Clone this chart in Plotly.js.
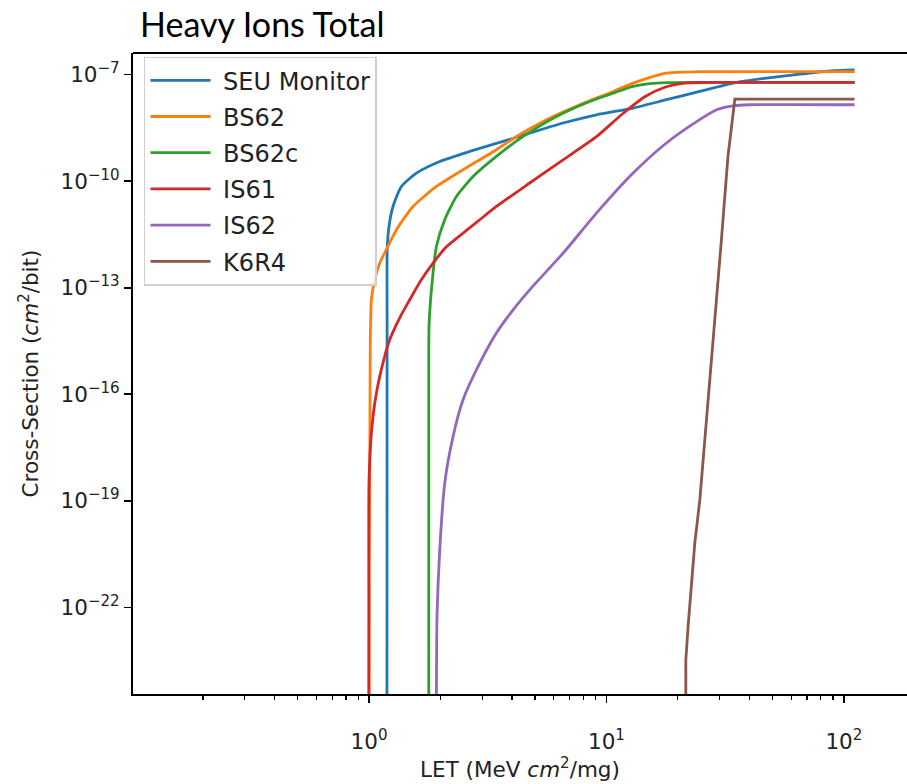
<!DOCTYPE html>
<html>
<head>
<meta charset="utf-8">
<script src="https://cdn.plot.ly/plotly-3.0.1.min.js"></script>
<style>html,body{margin:0;padding:0;overflow:hidden;background:#fff}</style>
</head>
<body>
<div id="chart" style="width:907px;height:784px"></div>
<script>
// ---- Data ----
const seriesNames = ["SEU Monitor", "BS62", "BS62c", "IS61", "IS62", "K6R4"];
const seriesColors = ["#1f77b4", "#ff7f0e", "#2ca02c", "#d62728", "#9467bd", "#8c564b"];

const seuLET = [1.190, 1.191, 1.192, 1.193, 1.214, 1.262, 1.369, 1.584, 1.986, 2.657, 3.67, 4.75, 6.57, 9.08, 12.95, 17.9, 24.7, 34.2, 47.2, 65.3, 90.2, 111];
const seuXS  = [1e-30, 1e-20, 1e-14, 1.17e-12, 5.3e-12, 1.94e-11, 7.1e-11, 1.69e-10, 3.6e-10, 6.9e-10, 1.32e-9, 2.27e-9, 4.35e-9, 7.4e-9, 1.15e-8, 1.97e-8, 3.37e-8, 5.8e-8, 8.0e-8, 1.04e-7, 1.29e-7, 1.36e-7];

const bs62LET = [1.000, 1.002, 1.007, 1.010, 1.013, 1.0235, 1.057, 1.109, 1.163, 1.305, 1.532, 1.923, 2.49, 3.44, 4.18, 5.59, 7.72, 10.67, 12.95, 17.9, 24.7, 111];
const bs62XS  = [1e-30, 1e-21, 3.2e-19, 7e-17, 4.2e-15, 4.6e-14, 1.67e-13, 4.9e-13, 9.44e-13, 4.3e-12, 1.94e-11, 7.1e-11, 2.1e-10, 7.7e-10, 1.82e-9, 5.4e-9, 1.42e-8, 3.37e-8, 5.8e-8, 1.11e-7, 1.21e-7, 1.21e-7];

const bs62cLET = [1.785, 1.786, 1.790, 1.832, 1.923, 2.084, 2.334, 2.744, 3.44, 4.46, 6.16, 8.51, 11.75, 12.95, 15.2, 17.9, 24.7, 111];
const bs62cXS  = [1e-30, 1e-16, 8.1e-15, 8.7e-14, 1.45e-12, 8.2e-12, 3.7e-11, 1.36e-10, 5.0e-10, 1.82e-9, 6.65e-9, 1.76e-8, 3.77e-8, 4.67e-8, 5.6e-8, 5.95e-8, 6.04e-8, 6.05e-8];

const is61LET = [0.997, 0.999, 1.0, 1.0235, 1.0744, 1.164, 1.222, 1.347, 1.484, 1.651, 1.861, 2.119, 2.49, 2.927, 3.44, 4.75, 6.57, 9.08, 11.57, 14.51, 17.62, 21.38, 25.97, 111];
const is61XS  = [1e-30, 1e-22, 3.2e-19, 8.0e-18, 1.08e-16, 1.16e-15, 3.41e-15, 1.42e-14, 4.57e-14, 1.57e-13, 4.94e-13, 1.42e-12, 3.46e-12, 8.2e-12, 1.94e-11, 8.9e-11, 4.0e-10, 1.79e-9, 7.43e-9, 2.39e-8, 4.43e-8, 5.81e-8, 6.04e-8, 6.04e-8];

const is62LET = [1.908, 1.923, 1.934, 1.986, 2.084, 2.259, 2.49, 2.927, 3.44, 4.045, 4.75, 6.57, 9.08, 12.95, 17.9, 24.7, 29.1, 34.2, 40.2, 111];
const is62XS  = [1e-30, 4e-25, 5.5e-23, 4.15e-21, 3.1e-19, 6.4e-18, 7.0e-17, 7.5e-16, 5.3e-15, 2.39e-14, 8.75e-14, 9.4e-13, 1.26e-11, 1.69e-10, 1.19e-9, 5.4e-9, 1.03e-8, 1.33e-8, 1.42e-8, 1.42e-8];

const k6r4LET = [21.58, 21.6, 22.08, 22.82, 23.56, 24.74, 27.2, 30.5, 32.5, 34.75, 111];
const k6r4XS  = [1e-30, 3.3e-24, 2.9e-23, 4.8e-22, 6.4e-21, 1.06e-19, 1.85e-16, 2.24e-12, 5.0e-10, 2.06e-8, 2.06e-8];

const xTickVals = [1, 10, 100];
const xTickText = ["10<sup>0</sup>", "10<sup>1</sup>", "10<sup>2</sup>"];
const xMinorVals = [0.2, 0.3, 0.4, 0.5, 0.6, 0.7, 0.8, 0.9, 2, 3, 4, 5, 6, 7, 8, 9, 20, 30, 40, 50, 60, 70, 80, 90];
const yTickVals = [1e-22, 1e-19, 1e-16, 1e-13, 1e-10, 1e-7];
const yTickText = ["10<sup>−22</sup>", "10<sup>−19</sup>", "10<sup>−16</sup>", "10<sup>−13</sup>", "10<sup>−10</sup>", "10<sup>−7</sup>"];

const xsData = [[seuLET, seuXS], [bs62LET, bs62XS], [bs62cLET, bs62cXS], [is61LET, is61XS], [is62LET, is62XS], [k6r4LET, k6r4XS]];
const smoothLine = [true, true, true, true, true, false];

const traces = xsData.map((d, i) => ({
  x: d[0], y: d[1], type: "scatter", mode: "lines",
  name: "\u00a0" + seriesNames[i], legendgroup: "g" + i,
  line: smoothLine[i] ? {color: seriesColors[i], width: 2.8, shape: "spline", smoothing: 0.6}
                      : {color: seriesColors[i], width: 2.8},
  hoverinfo: "x+y+name"
}));

const axFont = {family: "DejaVu Sans", size: 21.5, color: "#222"};

const layout = {
  width: 907, height: 784, autosize: false,
  margin: {l: 133, r: 0, t: 53, b: 90, pad: 0},
  paper_bgcolor: "#fff", plot_bgcolor: "#fff",
  showlegend: true,
  title: {
    text: "Heavy Ions Total",
    font: {family: "Lato", size: 34, color: "#000"},
    xref: "container", x: 140 / 907, xanchor: "left",
    yref: "container", y: 1 - 25 / 784, yanchor: "middle"
  },
  xaxis: {
    type: "log", range: [-0.994, 2.266], autorange: false,
    showgrid: false, zeroline: false,
    showline: true, linecolor: "#000", linewidth: 2, mirror: false,
    ticks: "outside", ticklen: 7, tickwidth: 1.6, tickcolor: "#000",
    tickmode: "array", tickvals: xTickVals, ticktext: xTickText,
    tickfont: axFont, ticklabelstandoff: 20,
    minor: {tickvals: xMinorVals, ticks: "outside", ticklen: 4, tickwidth: 1.2, tickcolor: "#000", showgrid: false},
    title: {text: "LET (MeV <i>cm</i><sup>2</sup>/mg)", font: axFont, standoff: 8},
    automargin: false
  },
  yaxis: {
    type: "log", range: [-24.44, -6.39], autorange: false,
    showgrid: false, zeroline: false,
    showline: true, linecolor: "#000", linewidth: 2, mirror: false,
    ticks: "outside", ticklen: 7, tickwidth: 1.6, tickcolor: "#000",
    tickmode: "array", tickvals: yTickVals, ticktext: yTickText,
    tickfont: axFont,
    title: {text: "Cross-Section (<i>cm</i><sup>2</sup>/bit)", font: axFont, standoff: 16},
    automargin: false
  },
  legend: {
    x: 0.0142, y: 0.9942, xanchor: "left", yanchor: "top",
    bgcolor: "rgba(255,255,255,0.85)", bordercolor: "#d0d0d0", borderwidth: 1.5,
    font: {family: "DejaVu Sans", size: 24, color: "#222"},
    tracegroupgap: 2, itemwidth: 60, traceorder: "grouped"
  },
  shapes: [
    {type: "line", xref: "paper", yref: "paper", x0: 0, x1: 1, y0: 1, y1: 1, line: {color: "#000", width: 2}}
  ]
};

Plotly.newPlot("chart", traces, layout, {displayModeBar: false, staticPlot: true});
</script>
</body>
</html>
